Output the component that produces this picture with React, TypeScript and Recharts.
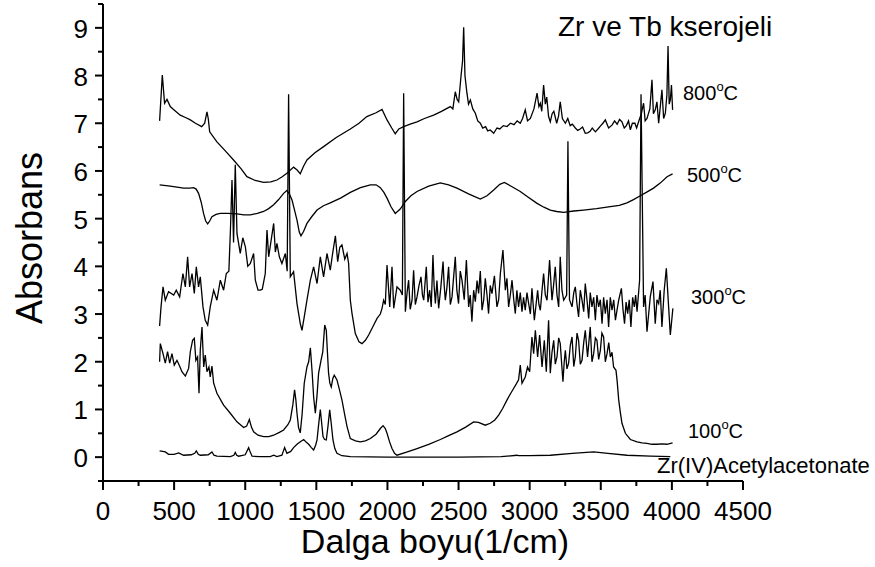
import React from 'react';
import { LineChart, Line, XAxis, YAxis } from 'recharts';

// axis ticks (minor every 250 / 0.5, labels on majors)
const xTicks = [0, 250, 500, 750, 1000, 1250, 1500, 1750, 2000, 2250, 2500, 2750, 3000, 3250, 3500, 3750, 4000, 4250, 4500];
const yTicks = [-0.5, 0, 0.5, 1, 1.5, 2, 2.5, 3, 3.5, 4, 4.5, 5, 5.5, 6, 6.5, 7, 7.5, 8, 8.5, 9, 9.5];

// spectra: [wavenumber, absorbance]
const t800: [number, number][] = [
  [398, 7.05], [417, 8.01], [433, 7.42], [450, 7.5], [473, 7.35], [500, 7.28], [543, 7.17], [580, 7.12], [614, 7.07],
  [650, 7.0], [694, 6.93], [715, 7.0], [731, 7.24], [740, 7.1], [750, 6.82], [801, 6.61], [860, 6.42], [918, 6.23],
  [970, 6.05], [1012, 5.88], [1070, 5.8], [1129, 5.76], [1180, 5.77], [1223, 5.81], [1260, 5.88], [1293, 5.95],
  [1340, 6.08], [1365, 6.02], [1387, 5.94], [1410, 6.1], [1434, 6.23], [1490, 6.38], [1551, 6.51], [1640, 6.7],
  [1739, 6.88], [1800, 7.0], [1855, 7.14], [1920, 7.22], [1962, 7.29], [1997, 7.07], [2030, 6.9], [2055, 6.78],
  [2080, 6.88], [2114, 6.93], [2160, 6.98], [2208, 7.03], [2260, 7.1], [2325, 7.17], [2380, 7.25], [2442, 7.35],
  [2460, 7.3], [2477, 7.66], [2490, 7.5], [2501, 7.45], [2517, 7.98], [2528, 8.3], [2536, 9.01], [2545, 8.0],
  [2559, 7.63], [2570, 7.4], [2583, 7.49], [2600, 7.3], [2618, 7.21], [2635, 7.05], [2653, 7.0], [2670, 6.9],
  [2690, 6.93], [2705, 6.84], [2723, 6.86], [2747, 6.79], [2770, 6.9], [2790, 6.88], [2815, 6.95], [2841, 6.93],
  [2865, 7.0], [2890, 6.97], [2912, 7.05], [2934, 7.0], [2950, 7.1], [2969, 7.28], [2985, 7.05], [3005, 7.1],
  [3030, 7.3], [3052, 7.63], [3065, 7.35], [3075, 7.42], [3085, 7.25], [3098, 7.8], [3110, 7.4], [3120, 7.55],
  [3133, 7.14], [3145, 7.03], [3158, 7.2], [3170, 7.25], [3190, 7.0], [3203, 7.15], [3215, 7.45], [3230, 7.1],
  [3251, 7.0], [3268, 7.1], [3285, 6.95], [3300, 6.98], [3321, 6.9], [3338, 6.85], [3355, 6.88], [3372, 6.92],
  [3391, 6.79], [3408, 6.8], [3425, 6.83], [3440, 6.9], [3462, 6.82], [3480, 6.88], [3500, 6.95], [3515, 7.0],
  [3532, 7.07], [3555, 6.9], [3579, 6.96], [3597, 7.05], [3615, 6.98], [3632, 7.08], [3649, 7.03], [3665, 6.9],
  [3680, 6.95], [3695, 7.05], [3708, 6.86], [3722, 7.0], [3740, 7.0], [3752, 6.9], [3766, 7.03], [3785, 7.2],
  [3801, 7.42], [3812, 7.05], [3825, 7.1], [3845, 7.3], [3860, 7.91], [3870, 7.2], [3883, 7.28], [3895, 7.45],
  [3907, 7.0], [3920, 7.4], [3930, 7.7], [3942, 7.1], [3954, 7.21], [3965, 7.6], [3973, 8.62], [3981, 7.4],
  [3989, 7.49], [3997, 7.8], [4005, 7.28],
];

const t500: [number, number][] = [
  [398, 5.71], [473, 5.68], [567, 5.64], [610, 5.64], [637, 5.65], [655, 5.62], [672, 5.53], [690, 5.35], [707, 5.11],
  [722, 4.95], [736, 4.89], [750, 4.95], [766, 5.04], [795, 5.09], [825, 5.11], [880, 5.11], [942, 5.1], [990, 5.08],
  [1036, 5.08], [1085, 5.11], [1129, 5.15], [1165, 5.21], [1200, 5.29], [1235, 5.4], [1270, 5.53], [1293, 5.59],
  [1310, 5.52], [1329, 5.39], [1345, 5.2], [1364, 4.97], [1380, 4.72], [1392, 4.64], [1410, 4.73], [1434, 4.9],
  [1470, 5.05], [1505, 5.18], [1550, 5.27], [1598, 5.33], [1670, 5.43], [1739, 5.55], [1810, 5.65], [1880, 5.71],
  [1920, 5.71], [1950, 5.65], [1975, 5.55], [1997, 5.43], [2025, 5.25], [2055, 5.11], [2090, 5.2], [2126, 5.36],
  [2165, 5.48], [2208, 5.57], [2290, 5.68], [2372, 5.75], [2430, 5.71], [2489, 5.64], [2570, 5.52], [2653, 5.41],
  [2700, 5.48], [2747, 5.6], [2790, 5.72], [2822, 5.76], [2870, 5.68], [2934, 5.57], [2990, 5.45], [3052, 5.32],
  [3100, 5.24], [3145, 5.18], [3190, 5.15], [3239, 5.13], [3310, 5.16], [3379, 5.18], [3470, 5.21], [3567, 5.25],
  [3630, 5.28], [3684, 5.33], [3730, 5.4], [3778, 5.48], [3820, 5.55], [3871, 5.64], [3920, 5.75], [3966, 5.88],
  [4005, 5.94],
];

const t300: [number, number][] = [
  [398, 2.75], [408, 3.15], [422, 3.57], [438, 3.29], [461, 3.47], [497, 3.4], [515, 3.5], [539, 3.36], [562, 3.85],
  [579, 3.57], [595, 4.2], [609, 3.57], [626, 3.85], [642, 3.43], [656, 3.99], [672, 3.57], [684, 3.78], [703, 3.15],
  [719, 2.87], [736, 2.77], [754, 3.15], [778, 3.5], [801, 3.29], [825, 3.71], [848, 3.5], [867, 3.85], [885, 3.9],
  [896, 4.76], [907, 5.81], [918, 4.5], [930, 6.13], [942, 4.69], [965, 4.27], [983, 4.6], [1001, 4.41], [1018, 4.0],
  [1036, 4.06], [1059, 4.27], [1071, 3.71], [1090, 3.5], [1106, 3.5], [1120, 3.52], [1141, 3.85], [1153, 4.76],
  [1165, 4.2], [1180, 4.5], [1200, 4.9], [1212, 4.3], [1223, 4.48], [1240, 4.2], [1258, 4.06], [1282, 4.27],
  [1295, 3.9], [1305, 7.61], [1317, 3.78], [1340, 3.89], [1364, 3.22], [1387, 2.8], [1399, 2.66], [1415, 2.94],
  [1434, 3.29], [1458, 3.71], [1481, 3.99], [1505, 3.64], [1528, 4.2], [1551, 3.78], [1575, 4.27], [1598, 3.92],
  [1616, 4.3], [1634, 4.64], [1650, 4.1], [1665, 4.4], [1680, 4.45], [1700, 4.15], [1716, 4.27], [1727, 4.06],
  [1739, 3.29], [1751, 3.01], [1774, 2.59], [1800, 2.42], [1821, 2.38], [1845, 2.45], [1868, 2.56], [1900, 2.75],
  [1927, 2.91], [1950, 3.0], [1962, 3.12], [1973, 3.29], [1985, 3.2], [1997, 4.03], [2016, 3.15], [2032, 3.99],
  [2044, 3.12], [2067, 3.57], [2090, 3.5], [2105, 3.4], [2114, 7.63], [2126, 3.05], [2138, 3.45], [2149, 3.71],
  [2160, 3.1], [2173, 3.29], [2184, 3.92], [2196, 3.2], [2208, 3.36], [2222, 3.6], [2236, 3.78], [2246, 3.4],
  [2255, 3.29], [2273, 3.99], [2285, 3.25], [2297, 3.5], [2308, 3.15], [2320, 4.24], [2328, 3.6], [2337, 3.22],
  [2348, 3.7], [2360, 3.12], [2375, 3.55], [2391, 4.1], [2399, 3.6], [2407, 3.29], [2418, 3.55], [2430, 3.99],
  [2442, 3.2], [2454, 3.36], [2466, 3.8], [2477, 4.2], [2488, 3.5], [2500, 3.22], [2512, 3.9], [2524, 3.71],
  [2540, 3.3], [2555, 4.13], [2571, 3.15], [2582, 3.4], [2594, 2.84], [2606, 3.5], [2618, 3.26], [2630, 3.7],
  [2641, 3.43], [2653, 3.9], [2665, 3.08], [2677, 3.3], [2688, 3.75], [2700, 3.4], [2711, 3.01], [2723, 3.6],
  [2735, 3.43], [2752, 3.8], [2770, 3.15], [2782, 3.3], [2794, 3.85], [2812, 4.34], [2829, 3.5], [2840, 3.75],
  [2852, 3.15], [2864, 3.4], [2876, 3.71], [2888, 3.3], [2899, 3.01], [2910, 3.5], [2922, 3.15], [2934, 3.45],
  [2946, 3.05], [2957, 3.35], [2969, 3.08], [2981, 3.45], [2993, 3.22], [3005, 3.0], [3016, 3.54], [3033, 2.87],
  [3045, 3.2], [3056, 3.5], [3065, 3.2], [3075, 3.08], [3087, 3.5], [3098, 3.85], [3110, 3.4], [3122, 3.29],
  [3140, 4.13], [3157, 3.29], [3168, 3.6], [3180, 3.99], [3192, 3.4], [3204, 3.15], [3215, 4.2], [3227, 3.5],
  [3239, 3.29], [3260, 3.4], [3269, 6.62], [3280, 3.3], [3298, 3.15], [3310, 3.45], [3321, 3.57], [3333, 3.2],
  [3344, 2.94], [3356, 3.5], [3368, 3.29], [3380, 3.05], [3391, 3.64], [3403, 3.3], [3415, 2.91], [3426, 3.45],
  [3438, 3.15], [3450, 3.35], [3462, 2.87], [3473, 3.4], [3485, 3.15], [3497, 3.3], [3509, 2.8], [3520, 3.35],
  [3532, 3.01], [3544, 3.3], [3555, 2.73], [3567, 3.35], [3579, 3.08], [3591, 3.3], [3603, 2.87], [3615, 3.1],
  [3626, 3.29], [3645, 3.54], [3656, 3.1], [3667, 2.8], [3678, 3.25], [3689, 3.01], [3700, 3.3], [3712, 2.73],
  [3724, 3.35], [3736, 3.15], [3745, 3.4], [3755, 3.05], [3773, 3.71], [3783, 7.61], [3801, 3.15], [3812, 3.4],
  [3825, 2.63], [3848, 3.36], [3867, 3.68], [3883, 2.8], [3895, 3.3], [3907, 3.22], [3918, 3.5], [3930, 2.73],
  [3946, 3.5], [3961, 3.96], [3977, 3.15], [3989, 2.56], [4007, 3.12],
];

const t100: [number, number][] = [
  [398, 2.0], [403, 2.38], [422, 2.17], [438, 1.97], [454, 2.21], [469, 1.97], [485, 2.17], [501, 1.93], [520, 2.03],
  [540, 1.9], [555, 1.79], [579, 1.7], [602, 1.86], [614, 2.21], [630, 2.45], [642, 2.49], [653, 2.03], [665, 2.1],
  [675, 1.34], [684, 2.24], [696, 2.73], [708, 1.89], [719, 2.14], [731, 1.79], [745, 1.89], [754, 1.68], [766, 1.91],
  [778, 1.55], [801, 1.34], [848, 1.09], [895, 0.92], [942, 0.74], [989, 0.62], [1010, 0.65], [1029, 0.79],
  [1045, 0.62], [1059, 0.53], [1090, 0.46], [1129, 0.43], [1165, 0.43], [1200, 0.46], [1240, 0.52], [1270, 0.57],
  [1300, 0.68], [1317, 0.78], [1335, 1.1], [1347, 1.41], [1356, 1.2], [1364, 0.92], [1375, 0.62], [1387, 0.51],
  [1400, 0.9], [1415, 1.55], [1434, 1.89], [1446, 2.0], [1458, 2.29], [1470, 1.8], [1481, 1.26], [1493, 0.92],
  [1505, 1.3], [1516, 1.76], [1533, 2.03], [1545, 2.2], [1559, 2.77], [1570, 2.66], [1578, 2.2], [1586, 1.76],
  [1595, 1.55], [1605, 1.47], [1616, 1.65], [1626, 1.72], [1645, 1.62], [1662, 1.42], [1680, 1.2], [1700, 0.88],
  [1716, 0.64], [1739, 0.39], [1775, 0.34], [1809, 0.32], [1845, 0.34], [1880, 0.39], [1920, 0.48], [1950, 0.6],
  [1969, 0.66], [1985, 0.6], [1997, 0.5], [2015, 0.32], [2032, 0.18], [2050, 0.08], [2067, 0.04], [2140, 0.11],
  [2208, 0.18], [2290, 0.27], [2372, 0.37], [2430, 0.45], [2489, 0.53], [2550, 0.63], [2606, 0.74], [2640, 0.73],
  [2688, 0.67], [2723, 0.71], [2755, 0.78], [2782, 0.88], [2810, 1.02], [2841, 1.2], [2865, 1.33], [2887, 1.44],
  [2905, 1.53], [2922, 1.62], [2934, 1.93], [2946, 1.55], [2969, 1.68], [2985, 1.89], [3000, 1.79], [3016, 2.52],
  [3028, 2.17], [3040, 2.66], [3056, 2.1], [3070, 2.56], [3087, 1.89], [3103, 2.45], [3117, 1.79], [3133, 2.87],
  [3145, 1.76], [3157, 2.2], [3169, 2.45], [3180, 1.95], [3192, 2.1], [3204, 2.5], [3215, 2.38], [3234, 1.58],
  [3243, 2.0], [3251, 2.24], [3262, 1.85], [3274, 1.97], [3286, 2.35], [3298, 2.52], [3310, 1.9], [3321, 2.1],
  [3333, 2.6], [3344, 2.45], [3356, 1.95], [3368, 2.03], [3380, 2.4], [3391, 2.66], [3407, 2.1], [3416, 2.4],
  [3426, 2.73], [3438, 2.0], [3450, 2.17], [3462, 2.5], [3473, 2.45], [3485, 2.05], [3497, 2.24], [3508, 2.6],
  [3520, 2.52], [3532, 2.0], [3544, 2.17], [3556, 2.4], [3567, 2.1], [3579, 2.2], [3590, 1.89], [3607, 1.82],
  [3615, 1.6], [3626, 1.2], [3637, 0.95], [3649, 0.71], [3673, 0.5], [3708, 0.37], [3755, 0.32], [3790, 0.3],
  [3825, 0.29], [3860, 0.27], [3895, 0.27], [3930, 0.28], [3965, 0.27], [4005, 0.3],
];

const tAcac: [number, number][] = [
  [398, 0.13], [420, 0.12], [438, 0.11], [461, 0.06], [500, 0.06], [532, 0.09], [567, 0.04], [620, 0.05], [645, 0.08],
  [656, 0.13], [670, 0.06], [684, 0.04], [740, 0.05], [766, 0.11], [780, 0.04], [801, 0.02], [895, 0.01], [920, 0.04],
  [930, 0.1], [940, 0.04], [954, 0.02], [1000, 0.05], [1024, 0.2], [1036, 0.1], [1048, 0.02], [1100, 0.01],
  [1176, 0.01], [1200, 0.04], [1223, 0.01], [1258, 0.04], [1277, 0.2], [1293, 0.08], [1320, 0.12], [1340, 0.2],
  [1364, 0.27], [1390, 0.33], [1411, 0.37], [1430, 0.31], [1446, 0.27], [1465, 0.2], [1481, 0.15], [1495, 0.25],
  [1505, 0.36], [1515, 0.65], [1528, 1.0], [1538, 0.7], [1547, 0.43], [1558, 0.37], [1570, 0.36], [1582, 0.65],
  [1594, 0.99], [1605, 0.7], [1617, 0.36], [1630, 0.18], [1645, 0.08], [1680, 0.03], [1739, 0.01], [2000, 0.0],
  [2500, 0.0], [2800, 0.01], [2911, 0.04], [2920, 0.03], [3000, 0.03], [3145, 0.04], [3300, 0.08], [3450, 0.11],
  [3550, 0.08], [3684, 0.04], [3850, 0.02], [3989, 0.01],
];

const FONT = '"Liberation Sans", Arial, sans-serif';

const toPts = (arr: [number, number][]) => arr.map(([x, y]) => ({ x, y }));

const XTick = (props: any) => {
  const { x, y, payload } = props;
  const major = payload.value % 500 === 0;
  return (
    <g>
      <line x1={x} x2={x} y1={y} y2={y + (major ? 9 : 5)} stroke="#000" strokeWidth={2} />
      {major && (
        <text x={x} y={y + 39} textAnchor="middle" fontSize={26} fontFamily={FONT} fill="#000">
          {payload.value}
        </text>
      )}
    </g>
  );
};

const YTick = (props: any) => {
  const { x, y, payload } = props;
  const v = payload.value;
  const major = Number.isInteger(v);
  return (
    <g>
      <line x1={x} x2={x - (major ? 8 : 5)} y1={y} y2={y} stroke="#000" strokeWidth={2} />
      {major && (
        <text x={x - 15} y={y + 10} textAnchor="end" fontSize={26} fontFamily={FONT} fill="#000">
          {v}
        </text>
      )}
    </g>
  );
};

const TempLabel = ({ x, y, t }: { x: number; y: number; t: string }) => (
  <text x={x} y={y} fontSize={20} fontFamily={FONT} fill="#000">
    {t}
    <tspan dy={-9} fontSize={13}>o</tspan>
    <tspan dy={9}>C</tspan>
  </text>
);

const App = () => {
  const series = [t800, t500, t300, t100, tAcac];
  return (
    <div style={{ position: 'absolute', left: 0, top: 0, width: 875, height: 567, background: '#fff' }}>
      <LineChart width={875} height={567} margin={{ top: 4, right: 132, bottom: 0, left: 0 }}>
        <XAxis
          type="number"
          dataKey="x"
          domain={[0, 4500]}
          ticks={xTicks}
          interval={0}
          height={86}
          tickSize={0}
          tickMargin={0}
          tickLine={false}
          axisLine={{ stroke: '#000', strokeWidth: 2 }}
          tick={<XTick />}
          allowDataOverflow
        />
        <YAxis
          type="number"
          domain={[-0.5, 9.5]}
          ticks={yTicks}
          interval={0}
          width={103}
          tickSize={0}
          tickMargin={0}
          tickLine={false}
          axisLine={{ stroke: '#000', strokeWidth: 2 }}
          tick={<YTick />}
          allowDataOverflow
        />
        {series.map((s, i) => (
          <Line
            key={i}
            data={toPts(s)}
            dataKey="y"
            type="linear"
            dot={false}
            stroke="#000"
            strokeWidth={1.3}
            isAnimationActive={false}
          />
        ))}
      </LineChart>
      <svg
        width={875}
        height={567}
        style={{ position: 'absolute', left: 0, top: 0, pointerEvents: 'none' }}
      >
        <text x={558} y={36} fontSize={28} fontFamily={FONT} fill="#000">Zr ve Tb kserojeli</text>
        <TempLabel x={683} y={100} t="800" />
        <TempLabel x={687} y={182} t="500" />
        <TempLabel x={691} y={304} t="300" />
        <TempLabel x={688} y={438} t="100" />
        <text x={657} y={473} fontSize={22} fontFamily={FONT} fill="#000">Zr(IV)Acetylacetonate</text>
        <text x={435} y={553} textAnchor="middle" fontSize={34} fontFamily={FONT} fill="#000">Dalga boyu(1/cm)</text>
        <text transform="translate(42,238) rotate(-90)" textAnchor="middle" fontSize={36} fontFamily={FONT} fill="#000">
          Absorbans
        </text>
      </svg>
    </div>
  );
};

export default App;
